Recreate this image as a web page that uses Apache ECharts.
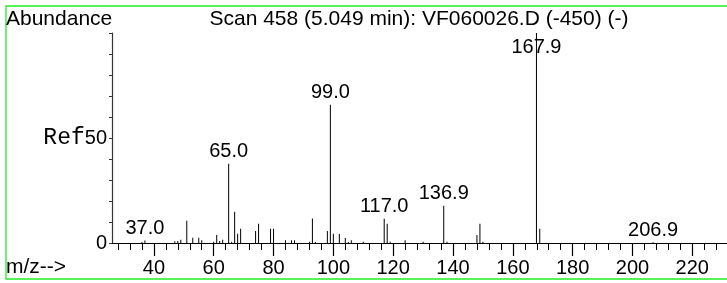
<!DOCTYPE html>
<html>
<head>
<meta charset="utf-8">
<script src="https://cdn.jsdelivr.net/npm/echarts@6/dist/echarts.min.js"></script>
<style>
	html, body { margin: 0; padding: 0; background: #fff; }
	#box { width: 727px; height: 283px; }
</style>
</head>
<body>
<div id="box"></div>
<script>
// peaks (m/z, relative abundance %)
var mz = [36, 37, 47, 48, 49, 51, 53, 55, 56, 60, 61, 62, 63, 65, 66, 67, 68, 69, 74, 75,
	79, 80, 84, 86, 87, 92, 93, 94, 98, 99, 100, 102, 104, 105, 106, 110, 117, 118, 119, 124,
	130, 136.9, 138, 148, 149, 150, 167.9, 169, 206.9];
var abundance = [0.5, 1.2, 0.8, 1.0, 1.5, 10.6, 2.5, 2.5, 1.3, 0.6, 3.8, 1.0, 1.5, 37.7, 0.6, 14.9, 4.4, 6.8, 5.7, 9.2,
	6.8, 6.8, 1.3, 1.3, 1.3, 0.6, 11.7, 0.5, 5.7, 65.8, 4.4, 4.3, 2.4, 0.5, 1.3, 0.6, 11.6, 9.2, 0.6, 1.3,
	0.6, 17.7, 0.6, 3.8, 9.2, 0.6, 100, 6.8, 0.3];
var labelledPeaks = [37.0, 65.0, 99.0, 117.0, 136.9, 167.9, 206.9];
var majorTicks = [40, 60, 80, 100, 120, 140, 160, 180, 200, 220];
var minorTicks = [28, 32, 36, 40, 44, 48, 52, 56, 60, 64, 68, 72, 76, 80, 84, 88, 92, 96, 100, 104, 108,
	112, 116, 120, 124, 128, 132, 136, 140, 144, 148, 152, 156, 160, 164, 168, 172, 176, 180, 184, 188,
	192, 196, 200, 204, 208, 212, 216, 220, 224, 228];
var yLabels = [0, 50];
var title = "Scan 458 (5.049 min): VF060026.D (-450) (-)";

var sans = "Liberation Sans";
var myChart = echarts.init(document.getElementById("box"), null, { renderer: "canvas" });

var peaks = [];
for (var i = 0; i < mz.length; i++) {
	var item = { value: [mz[i], abundance[i]] };
	if (labelledPeaks.indexOf(mz[i]) >= 0) {
		item.label = { show: true };
		if (abundance[i] >= 100) {
			// top peak: label sits down beside the stem
			item.label.offset = [0, 26];
		}
	}
	peaks.push(item);
}

var option = {
	animation: false,
	backgroundColor: "#fff",
	grid: {
		left: 112,
		right: 0,
		top: 33,
		bottom: 40
	},
	xAxis: [{
		type: "value",
		min: 26,
		max: 231.6,
		position: "bottom",
		splitLine: { show: false },
		axisLine: { lineStyle: { color: "#000", width: 1 } },
		axisTick: {
			customValues: majorTicks,
			length: 13,
			lineStyle: { color: "#000", width: 1.2 }
		},
		axisLabel: {
			customValues: majorTicks,
			margin: 15,
			color: "#000",
			fontFamily: sans,
			fontSize: 20
		}
	}, {
		type: "value",
		min: 26,
		max: 231.6,
		position: "bottom",
		offset: 0,
		splitLine: { show: false },
		axisLine: { show: false },
		axisTick: {
			customValues: minorTicks,
			length: 7,
			lineStyle: { color: "#000", width: 1 }
		},
		axisLabel: { show: false }
	}],
	yAxis: {
		type: "value",
		min: 0,
		max: 100,
		interval: 10,
		splitLine: { show: false },
		axisLine: { show: true, lineStyle: { color: "#333", width: 1.2 } },
		axisTick: { length: 3, lineStyle: { color: "#333" } },
		axisLabel: {
			margin: 5,
			color: "#000",
			fontFamily: sans,
			fontSize: 20,
			formatter: function (v) {
				if (yLabels.indexOf(v) < 0) return "";
				if (v == 50) return "{r|Ref}{n|50}";
				return String(v);
			},
			rich: {
				r: { fontFamily: "Liberation Mono", fontSize: 23, color: "#000" },
				n: { fontFamily: sans, fontSize: 20, color: "#000" }
			}
		}
	},
	series: [{
		type: "bar",
		xAxisIndex: 0,
		barWidth: 1,
		itemStyle: { color: "#000" },
		label: {
			show: false,
			position: "top",
			distance: 2,
			color: "#000",
			fontFamily: sans,
			fontSize: 20,
			formatter: function (p) {
				return p.value[0].toFixed(1);
			}
		},
		data: peaks
	}],
	graphic: [{
		type: "rect",
		shape: { x: 6, y: 6, width: 760, height: 273 },
		style: { fill: "none", stroke: "#22ee22", lineWidth: 1.3 },
		silent: true
	}, {
		type: "text",
		x: 6,
		y: 19,
		style: {
			text: "Abundance",
			font: "21px " + sans,
			fill: "#000",
			textAlign: "left",
			textVerticalAlign: "middle"
		}
	}, {
		type: "text",
		x: 419,
		y: 19,
		style: {
			text: title,
			font: "21px " + sans,
			fill: "#000",
			textAlign: "center",
			textVerticalAlign: "middle"
		}
	}, {
		type: "text",
		x: 6,
		y: 267,
		style: {
			text: "m/z-->",
			font: "21px " + sans,
			fill: "#000",
			textAlign: "left",
			textVerticalAlign: "middle"
		}
	}]
};

myChart.clear();
myChart.setOption(option);
</script>
</body>
</html>
